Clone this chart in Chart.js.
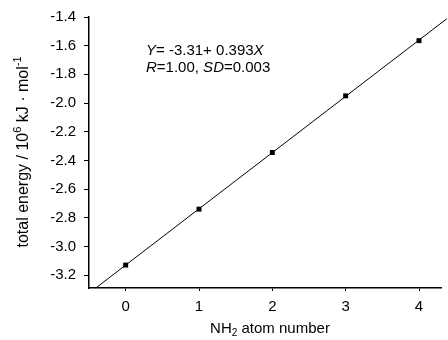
<!DOCTYPE html>
<html>
<head>
<meta charset="utf-8">
<script src="https://cdn.jsdelivr.net/npm/chart.js@4"></script>
<style>
html,body{margin:0;padding:0;background:#fff;}
#wrap{width:448px;height:340px;}
</style>
</head>
<body>
<div id="wrap"><canvas id="c" width="448" height="340"></canvas></div>
<script>
const atomNumbers = [0, 1, 2, 3, 4];
const totalEnergy = [-3.13, -2.74, -2.345, -1.95, -1.565];
const fitX = [-0.41, 4.38];
const fitY = [-3.291, -1.412];
const xTicks = [0, 1, 2, 3, 4];
const yTicks = [-1.4, -1.6, -1.8, -2.0, -2.2, -2.4, -2.6, -2.8, -3.0, -3.2];

const FONT = '"Liberation Sans", Arial, sans-serif';

function drawRich(ctx, segs, x, y, size, align) {
  let total = 0;
  const parts = segs.map(s => {
    const fs = (s.sup || s.sub) ? Math.round(size * 0.68) : size;
    ctx.font = (s.italic ? 'italic ' : '') + fs + 'px ' + FONT;
    const w = ctx.measureText(s.t).width;
    total += w;
    return {s, fs, w};
  });
  let cx = align === 'center' ? x - total / 2 : x;
  parts.forEach(p => {
    ctx.font = (p.s.italic ? 'italic ' : '') + p.fs + 'px ' + FONT;
    let dy = 0;
    if (p.s.sup) dy = -size * 0.42;
    if (p.s.sub) dy = size * 0.22;
    ctx.fillText(p.s.t, cx, y + dy);
    cx += p.w;
  });
}

const textPlugin = {
  id: 'texts',
  afterDraw(chart) {
    const ctx = chart.ctx;
    ctx.save();
    ctx.fillStyle = '#000';
    ctx.textBaseline = 'alphabetic';
    ctx.textAlign = 'left';
    drawRich(ctx, [
      {t: 'Y', italic: true}, {t: '= -3.31+ 0.393'}, {t: 'X', italic: true}
    ], 146, 54.5, 15, 'left');
    drawRich(ctx, [
      {t: 'R', italic: true}, {t: '=1.00, '}, {t: 'SD', italic: true}, {t: '=0.003'}
    ], 146, 72, 15, 'left');
    drawRich(ctx, [
      {t: 'NH'}, {t: '2', sub: true}, {t: ' atom number'}
    ], 270, 333, 15, 'center');
    ctx.translate(28, 152);
    ctx.rotate(-Math.PI / 2);
    drawRich(ctx, [
      {t: 'total energy / 10'}, {t: '6', sup: true}, {t: ' kJ \u00B7 mol'}, {t: '-1', sup: true}
    ], 0, 0, 16, 'center');
    ctx.restore();
  }
};

new Chart(document.getElementById('c'), {
  type: 'scatter',
  data: {
    datasets: [
      {
        type: 'line',
        data: fitX.map((x, i) => ({x, y: fitY[i]})),
        borderColor: '#000',
        borderWidth: 1,
        pointRadius: 0,
        fill: false,
        clip: false,
        order: 2
      },
      {
        data: atomNumbers.map((x, i) => ({x, y: totalEnergy[i]})),
        pointStyle: 'rect',
        pointRadius: 3.5,
        pointHoverRadius: 3.5,
        backgroundColor: '#000',
        borderColor: '#000',
        borderWidth: 0,
        order: 1
      }
    ]
  },
  options: {
    responsive: false,
    animation: false,
    events: [],
    layout: {padding: {left: 0, right: 7, top: 17, bottom: 0}},
    plugins: {legend: {display: false}, tooltip: {enabled: false}},
    scales: {
      x: {
        type: 'linear',
        min: -0.5,
        max: 4.3,
        afterBuildTicks: s => { s.ticks = xTicks.map(v => ({value: v})); },
        afterFit: s => { s.height = 52; },
        border: {display: true, color: '#000', width: 1.5},
        grid: {display: true, drawOnChartArea: false, drawTicks: true, tickLength: 3, color: '#000', lineWidth: 1},
        ticks: {color: '#000', font: {family: FONT, size: 15}, padding: 7, maxRotation: 0,
          callback: v => String(v)}
      },
      y: {
        type: 'linear',
        min: -3.29,
        max: -1.4,
        afterBuildTicks: s => { s.ticks = yTicks.map(v => ({value: v})); },
        afterFit: s => { s.width = 89; },
        border: {display: true, color: '#000', width: 1.5},
        grid: {display: true, drawOnChartArea: false, drawTicks: true, tickLength: 5, color: '#000', lineWidth: 1},
        ticks: {color: '#000', font: {family: FONT, size: 15}, padding: 8,
          callback: v => v.toFixed(1)}
      }
    }
  },
  plugins: [textPlugin]
});
</script>
</body>
</html>
